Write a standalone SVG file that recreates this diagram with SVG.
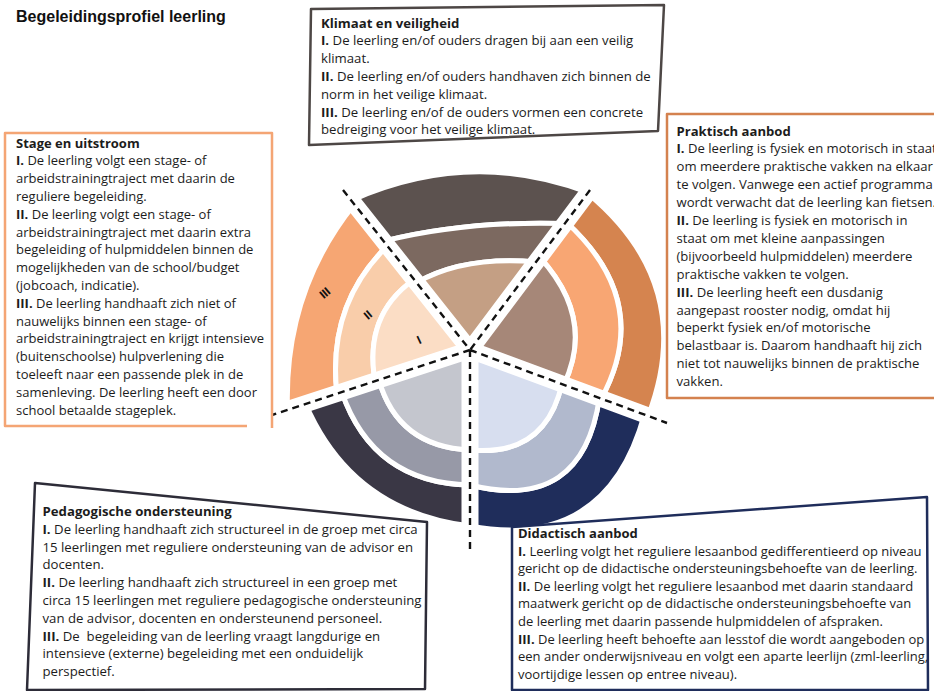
<svg xmlns="http://www.w3.org/2000/svg" width="934" height="691" viewBox="0 0 934 691">
<style>
.t{font-family:"Open Sans",Lato,"Liberation Sans",sans-serif;fill:#1c1c1c;font-weight:500}
.b{font-weight:700}
.s1{font-size:13px}
.s2{font-size:13.2px}
.s3{font-size:13.1px}
.s4{font-size:13.2px}
.s5{font-size:13px}
.band{stroke:#fff;stroke-width:5;stroke-linejoin:round}
.wl{stroke:#fff;stroke-width:17;fill:none}
.dl{stroke:#111;stroke-width:2.4;stroke-dasharray:7 5;fill:none}
.box{fill:none;stroke-width:2.5;stroke-linejoin:round}
.lbl{font-family:"Liberation Sans",Arial,sans-serif;font-size:12px;font-weight:700;fill:#111;text-anchor:middle}
</style>
<rect width="934" height="691" fill="#fff"/>
<text x="16" y="21.5" style="font-family:'Liberation Sans',Arial,sans-serif;font-size:16px;font-weight:700;fill:#111">Begeleidingsprofiel leerling</text>

<g id="wheel">
  <g id="sector-klimaat">
    <path class="band" fill="#5C524F" d="M351.4,200.4 Q470.2,147.6 588.3,192.5 L564.9,223.6 Q465.8,220.6 383.7,241.2 Z"/>
    <path class="band" fill="#7C6960" d="M383.7,241.2 Q465.8,220.6 564.9,223.6 L536.1,262 Q463.7,255.7 416.6,282.7 Z"/>
    <path class="band" fill="#C49F84" d="M416.6,282.7 Q463.7,255.7 536.1,262 L470,350 Z"/>
  </g>
  <g id="sector-praktisch">
    <path class="band" fill="#D5844F" d="M587.7,193.3 Q698.1,284.9 648.2,415.9 L601.3,398.6 Q653.8,302.1 566.1,222 Z"/>
    <path class="band" fill="#F8A673" d="M566.1,222 Q653.8,302.1 601.3,398.6 L563.8,384.7 Q595.5,318.1 539.7,257.2 Z"/>
    <path class="band" fill="#A68778" d="M539.7,257.2 Q595.5,318.1 563.8,384.7 L470,350 Z"/>
  </g>
  <g id="sector-didactisch">
    <path class="band" fill="#1F2D5B" d="M644.4,414.5 Q606.8,551.5 470,526 L470,485 Q582.4,513 599.4,397.9 Z"/>
    <path class="band" fill="#B1B9CD" d="M599.4,397.9 Q582.4,513 470,485 L470,450 Q545.3,457 561.9,384 Z"/>
    <path class="band" fill="#D7DEEF" d="M561.9,384 Q545.3,457 470,450 L470,350 Z"/>
  </g>
  <g id="sector-pedagogisch">
    <path class="band" fill="#3A3745" d="M470,526 Q352,511.8 305.5,403.8 L341.7,391.9 Q373.2,483.2 470,485 Z"/>
    <path class="band" fill="#9799A7" d="M470,485 Q373.2,483.2 341.7,391.9 L378.8,379.8 Q398,446.9 470,450 Z"/>
    <path class="band" fill="#C4C6CE" d="M470,450 Q398,446.9 378.8,379.8 L470,350 Z"/>
  </g>
  <g id="sector-stage">
    <path class="band" fill="#F6A673" d="M287.5,409.6 Q283.7,292 354.4,204.2 L387.4,245.9 Q327.1,304.7 336.9,393.5 Z"/>
    <path class="band" fill="#F9CDAA" d="M336.9,393.5 Q327.1,304.7 387.4,245.9 L414.1,279.5 Q363.6,314.9 375,381.1 Z"/>
    <path class="band" fill="#FBDDC5" d="M375,381.1 Q363.6,314.9 414.1,279.5 L470,350 Z"/>
    <text class="lbl" x="325" y="297" transform="rotate(-40 325 293)">III</text>
    <text class="lbl" x="368" y="319" transform="rotate(-40 368 315)">II</text>
    <text class="lbl" x="419" y="344" transform="rotate(-25 419 340)">I</text>
  </g>
</g>

<g id="connectors">
  <path class="wl" d="M345.8,193.4 L470,350 M590,190 L470,350 M470,350 L657.6,419.4 M470,350 L470,540 M470,350 L279.9,412.2"/>
  <path class="dl" d="M343,190 L470,350 M590,190 L470,350 M470,350 L667,423 M470,350 L470,550 M470,350 L272,415"/>
</g>

<g id="box-klimaat">
  <path class="box" stroke="#4D4745" d="M311,9 L664,5 L658,131 L309,145 Z"/>
  <g class="t s2">
    <text x="321" y="27.5" class="b">Klimaat en veiligheid</text>
    <text x="321" y="45.3"><tspan class="b">I.</tspan> De leerling en/of ouders dragen bij aan een veilig</text>
    <text x="321" y="63.1">klimaat.</text>
    <text x="321" y="80.9"><tspan class="b">II.</tspan> De leerling en/of ouders handhaven zich binnen de</text>
    <text x="321" y="98.7">norm in het veilige klimaat.</text>
    <text x="321" y="116.5"><tspan class="b">III.</tspan> De leerling en/of de ouders vormen een concrete</text>
    <text x="321" y="134.3">bedreiging voor het veilige klimaat.</text>
  </g>
</g>

<g id="box-stage">
  <path class="box" stroke="#F4A574" d="M247,426 H5 V133 H272 V428"/>
  <g class="t s1">
    <text x="16" y="147.5" class="b">Stage en uitstroom</text>
    <text x="16" y="165.3"><tspan class="b">I.</tspan> De leerling volgt een stage- of</text>
    <text x="16" y="183.1">arbeidstrainingtraject met daarin de</text>
    <text x="16" y="200.9">reguliere begeleiding.</text>
    <text x="16" y="218.7"><tspan class="b">II.</tspan> De leerling volgt een stage- of</text>
    <text x="16" y="236.5">arbeidstrainingtraject met daarin extra</text>
    <text x="16" y="254.3">begeleiding of hulpmiddelen binnen de</text>
    <text x="16" y="272.1">mogelijkheden van de school/budget</text>
    <text x="16" y="289.9">(jobcoach, indicatie).</text>
    <text x="16" y="307.7"><tspan class="b">III.</tspan> De leerling handhaaft zich niet of</text>
    <text x="16" y="325.5">nauwelijks binnen een stage- of</text>
    <text x="16" y="343.3">arbeidstrainingtraject en krijgt intensieve</text>
    <text x="16" y="361.1">(buitenschoolse) hulpverlening die</text>
    <text x="16" y="378.9">toeleeft naar een passende plek in de</text>
    <text x="16" y="396.7">samenleving. De leerling heeft een door</text>
    <text x="16" y="414.5">school betaalde stageplek.</text>
  </g>
</g>

<g id="box-praktisch">
  <path class="box" stroke="#D4824F" d="M940,114 H667 V398 H940"/>
  <g class="t s3">
    <text x="676.5" y="135.5" class="b">Praktisch aanbod</text>
    <text x="676.5" y="153.4"><tspan class="b">I.</tspan> De leerling is fysiek en motorisch in staat</text>
    <text x="676.5" y="171.3">om meerdere praktische vakken na elkaar</text>
    <text x="676.5" y="189.2">te volgen. Vanwege een actief programma</text>
    <text x="676.5" y="207.1">wordt verwacht dat de leerling kan fietsen.</text>
    <text x="676.5" y="225"><tspan class="b">II.</tspan> De leerling is fysiek en motorisch in</text>
    <text x="676.5" y="242.9">staat om met kleine aanpassingen</text>
    <text x="676.5" y="260.8">(bijvoorbeeld hulpmiddelen) meerdere</text>
    <text x="676.5" y="278.7">praktische vakken te volgen.</text>
    <text x="676.5" y="296.6"><tspan class="b">III.</tspan> De leerling heeft een dusdanig</text>
    <text x="676.5" y="314.5">aangepast rooster nodig, omdat hij</text>
    <text x="676.5" y="332.4">beperkt fysiek en/of motorische</text>
    <text x="676.5" y="350.3">belastbaar is. Daarom handhaaft hij zich</text>
    <text x="676.5" y="368.2">niet tot nauwelijks binnen de praktische</text>
    <text x="676.5" y="386.1">vakken.</text>
  </g>
</g>

<g id="box-pedagogisch">
  <path class="box" stroke="#2D2C38" d="M35,483 L427,522 L425,689 L27,690 Z"/>
  <g class="t s4">
    <text x="42.5" y="516" class="b">Pedagogische ondersteuning</text>
    <text x="42.5" y="533.8"><tspan class="b">I.</tspan> De leerling handhaaft zich structureel in de groep met circa</text>
    <text x="42.5" y="551.6">15 leerlingen met reguliere ondersteuning van de advisor en</text>
    <text x="42.5" y="569.4">docenten.</text>
    <text x="42.5" y="587.2"><tspan class="b">II.</tspan> De leerling handhaaft zich structureel in een groep met</text>
    <text x="42.5" y="605">circa 15 leerlingen met reguliere pedagogische ondersteuning</text>
    <text x="42.5" y="622.8">van de advisor, docenten en ondersteunend personeel.</text>
    <text x="42.5" y="640.6" xml:space="preserve"><tspan class="b">III.</tspan> De  begeleiding van de leerling vraagt langdurige en</text>
    <text x="42.5" y="658.4">intensieve (externe) begeleiding met een onduidelijk</text>
    <text x="42.5" y="676.2">perspectief.</text>
  </g>
</g>

<g id="box-didactisch">
  <path class="box" stroke="#1F2D5B" d="M512,527 L927,497 L928,690 L512,690 Z"/>
  <g class="t s5">
    <text x="518" y="538" class="b">Didactisch aanbod</text>
    <text x="518" y="555.6"><tspan class="b">I.</tspan> Leerling volgt het reguliere lesaanbod gedifferentieerd op niveau</text>
    <text x="518" y="573.2">gericht op de didactische ondersteuningsbehoefte van de leerling.</text>
    <text x="518" y="590.8"><tspan class="b">II.</tspan> De leerling volgt het reguliere lesaanbod met daarin standaard</text>
    <text x="518" y="608.4">maatwerk gericht op de didactische ondersteuningsbehoefte van</text>
    <text x="518" y="626">de leerling met daarin passende hulpmiddelen of afspraken.</text>
    <text x="518" y="643.6"><tspan class="b">III.</tspan> De leerling heeft behoefte aan lesstof die wordt aangeboden op</text>
    <text x="518" y="661.2">een ander onderwijsniveau en volgt een aparte leerlijn (zml-leerling,</text>
    <text x="518" y="678.8">voortijdige lessen op entree niveau).</text>
  </g>
</g>
</svg>
